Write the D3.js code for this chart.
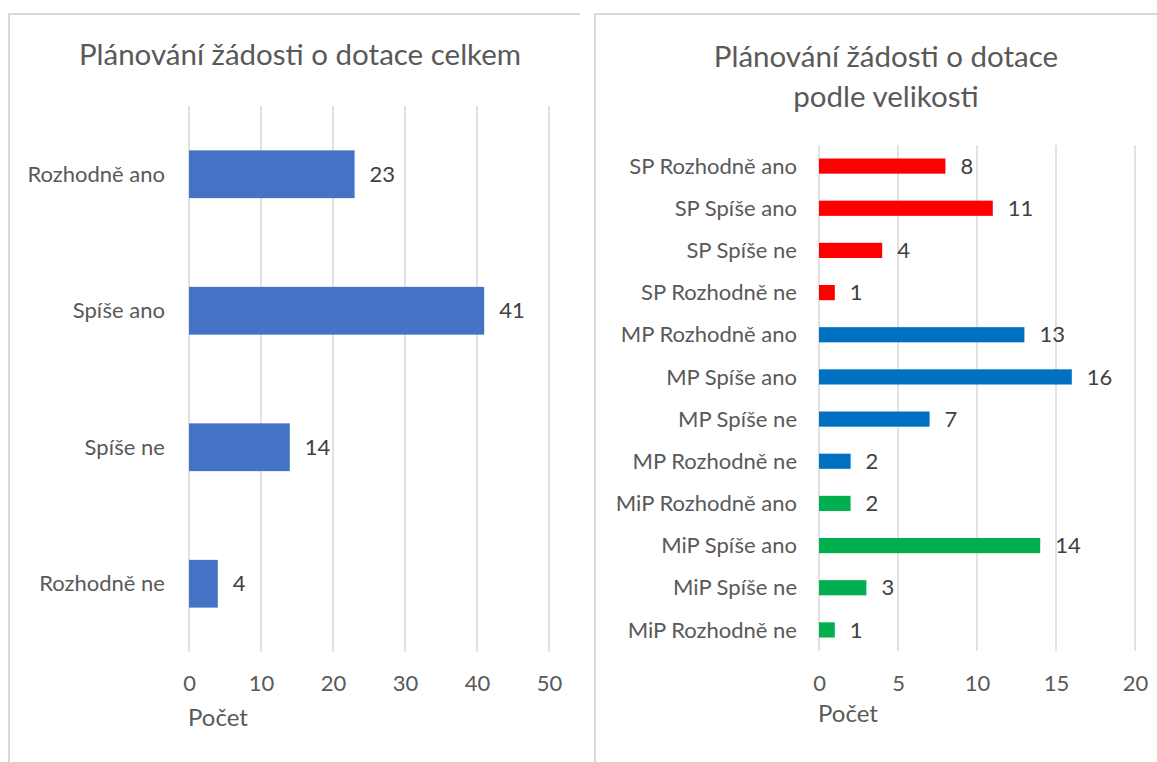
<!DOCTYPE html>
<html>
<head>
<meta charset="utf-8">
<script src="https://cdn.jsdelivr.net/npm/d3@7"></script>
<style>
  html, body { margin: 0; padding: 0; background: #fff; }
  svg text { font-family: Lato, "Open Sans", sans-serif; fill: #595959; }
</style>
</head>
<body>
<svg id="chart" width="1157" height="762"></svg>
<script>
// Overall answers
const totalCategories = ["Rozhodně ano", "Spíše ano", "Spíše ne", "Rozhodně ne"];
const totalValues = [23, 41, 14, 4];
const totalTicks = [0, 10, 20, 30, 40, 50];

// Answers split by company size
const sizeCategories = [
  "SP Rozhodně ano", "SP Spíše ano", "SP Spíše ne", "SP Rozhodně ne",
  "MP Rozhodně ano", "MP Spíše ano", "MP Spíše ne", "MP Rozhodně ne",
  "MiP Rozhodně ano", "MiP Spíše ano", "MiP Spíše ne", "MiP Rozhodně ne"
];
const sizeValues = [8, 11, 4, 1, 13, 16, 7, 2, 2, 14, 3, 1];
const sizeGroups = ["SP", "MP", "MiP"];
const sizeColors = ["#FF0000", "#0070C0", "#00B050"];
const sizeTicks = [0, 5, 10, 15, 20];

const svg = d3.select("#chart");
const gridColor = "#d9d9d9";

// Panel frames
svg.append("path")
  .attr("d", "M9,762 V14 H580")
  .attr("fill", "none").attr("stroke", gridColor).attr("stroke-width", 2);
svg.append("path")
  .attr("d", "M595,762 V14 H1157")
  .attr("fill", "none").attr("stroke", gridColor).attr("stroke-width", 2);

function drawPanel(opts) {
  const g = svg.append("g");
  const x = d3.scaleLinear().domain(opts.domain).range([opts.x0, opts.x1]);
  const y = d3.scaleBand().domain(opts.categories).range([opts.y0, opts.y1])
    .paddingInner(opts.padding).paddingOuter(opts.padding / 2);

  // vertical gridlines
  g.append("g").selectAll("line").data(opts.ticks).join("line")
    .attr("x1", d => x(d)).attr("x2", d => x(d))
    .attr("y1", opts.y0).attr("y2", opts.y1)
    .attr("stroke", gridColor).attr("stroke-width", 1.5);

  // x axis labels
  const axis = d3.axisBottom(x).tickValues(opts.ticks).tickSize(0).tickPadding(0);
  const ax = g.append("g").attr("transform", `translate(0,${opts.tickY})`).call(axis);
  ax.select(".domain").remove();
  ax.attr("font-size", null).attr("font-family", null);
  ax.selectAll("text").attr("font-size", opts.fs).attr("fill", "#595959")
    .attr("dy", "0.35em");

  g.append("text").attr("x", opts.x0 - 1).attr("y", opts.titleAxisY)
    .attr("font-size", opts.fs + 2).attr("dy", "0.35em").text("Počet");

  // category labels
  const ay = d3.axisLeft(y).tickSize(0).tickPadding(0);
  const ayg = g.append("g").attr("transform", `translate(${opts.labelX},0)`).call(ay);
  ayg.select(".domain").remove();
  ayg.attr("font-size", null).attr("font-family", null);
  ayg.selectAll("text").attr("font-size", opts.fs).attr("fill", "#595959")
    .attr("dy", "0.35em");

  // bars
  g.append("g").selectAll("rect").data(opts.values).join("rect")
    .attr("x", x(0))
    .attr("y", (d, i) => y(opts.categories[i]))
    .attr("width", d => x(d) - x(0))
    .attr("height", y.bandwidth())
    .attr("fill", (d, i) => opts.color(i));

  // value labels
  g.append("g").selectAll("text").data(opts.values).join("text")
    .attr("x", d => x(d) + opts.labelGap)
    .attr("y", (d, i) => y(opts.categories[i]) + y.bandwidth() / 2)
    .attr("dy", "0.35em").attr("font-size", opts.fs)
    .style("fill", "#404040")
    .text(d => d);

  // title
  const t = g.append("text").attr("text-anchor", "middle")
    .attr("font-size", opts.titleSize);
  opts.title.forEach((line, i) => {
    t.append("tspan").attr("x", opts.titleX).attr("y", opts.titleY + i * opts.titleLead)
      .text(line);
  });
}

drawPanel({
  categories: totalCategories, values: totalValues, ticks: totalTicks,
  domain: [0, 50], x0: 189, x1: 549, y0: 106, y1: 652, padding: 0.65,
  labelX: 165, tickY: 683, titleAxisY: 718, fs: 22, labelGap: 15,
  color: () => "#4472C4",
  title: ["Plánování žádosti o dotace celkem"], titleX: 300, titleY: 65,
  titleLead: 40, titleSize: 29.5
});

drawPanel({
  categories: sizeCategories, values: sizeValues, ticks: sizeTicks,
  domain: [0, 20], x0: 819, x1: 1135, y0: 145, y1: 651, padding: 0.64,
  labelX: 797, tickY: 683, titleAxisY: 714, fs: 22, labelGap: 15,
  color: i => sizeColors[sizeGroups.indexOf(sizeCategories[i].split(" ")[0])],
  title: ["Plánování žádosti o dotace", "podle velikosti"], titleX: 886, titleY: 67,
  titleLead: 40, titleSize: 29.5
});
</script>
</body>
</html>
